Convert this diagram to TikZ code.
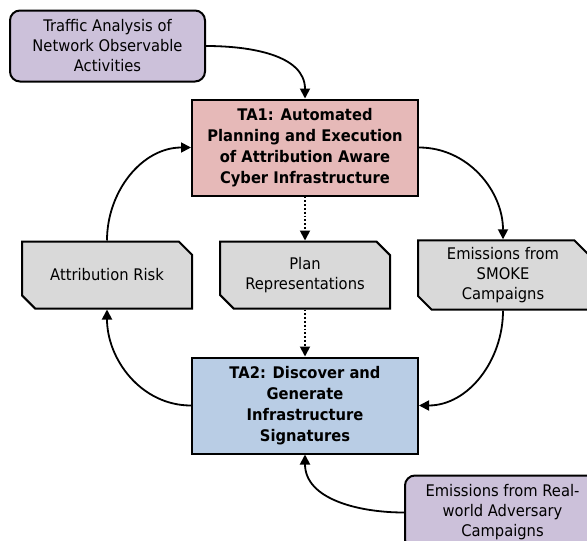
\documentclass[tikz,border=0pt]{standalone}
\usepackage{fontspec}
\setmainfont{DejaVu Sans}[FakeStretch=0.92]
\usetikzlibrary{positioning,arrows.meta,shapes.misc}
\definecolor{tapink}{HTML}{E6B9B8}
\definecolor{tablue}{HTML}{B9CDE5}
\definecolor{srcpurple}{HTML}{CCC1DA}
\definecolor{prodgray}{HTML}{D9D9D9}
\tikzset{
    every node/.style={font=\fontsize{16}{20}\selectfont},
    tabox/.style={rectangle,draw,line width=2pt,minimum width=226pt,minimum height=96pt,align=center,
        font=\fontsize{16}{21}\selectfont\bfseries},
    source/.style={rectangle,rounded corners=10pt,draw,line width=2pt,fill=srcpurple,
        minimum width=195pt,minimum height=71pt,align=center},
    product/.style={chamfered rectangle,chamfered rectangle corners={north east,south west},
        chamfered rectangle xsep=10pt,chamfered rectangle angle=45,draw,line width=2pt,fill=prodgray,
        minimum width=170pt,minimum height=67pt,align=center,inner xsep=0pt},
    flow/.style={-{Triangle[length=10pt,width=10pt]},line width=1.8pt},
    planflow/.style={flow,dotted}
}
\begin{document}
\begin{tikzpicture}[x=1pt,y=1pt,node distance=26pt]
    \useasboundingbox (0,0) rectangle (587,-541);
    % the two technical areas and what passes between them
    \node[tabox,fill=tapink] (ta1) at (305,-147.5) {TA1: Automated\\Planning and Execution\\of Attribution Aware\\Cyber Infrastructure};
    \node[product,below=44pt of ta1] (plan) {Plan\\Representations};
    \node[product,left=of plan] (risk) {Attribution Risk};
    \node[product,right=of plan] (smoke) {Emissions from\\SMOKE\\Campaigns};
    \node[tabox,fill=tablue,below=47pt of plan] (ta2) {TA2: Discover and\\Generate\\Infrastructure\\Signatures};
    % outside inputs
    \node[source,above left=16pt and -15pt of ta1.north west] (traffic) {Traffic Analysis of\\Network Observable\\Activities};
    \node[source,below right=20pt and -15pt of ta2.south east,minimum height=74pt] (realworld) {Emissions from Real-\\world Adversary\\Campaigns};
    \draw[flow] (traffic.east) to[out=0,in=90] (ta1.north);
    \draw[flow] (ta1.east) to[out=0,in=90] (smoke.north);
    \draw[flow] (smoke.south) to[out=-90,in=0] (ta2.east);
    \draw[flow] (ta2.west) to[out=180,in=-90] (risk.south);
    \draw[flow] (risk.north) to[out=90,in=180] (ta1.west);
    \draw[flow] (realworld.west) to[out=180,in=-90] (ta2.south);
    \draw[planflow] (ta1.south) -- (plan.north);
    \draw[planflow] (plan.south) -- (ta2.north);
\end{tikzpicture}
\end{document}
